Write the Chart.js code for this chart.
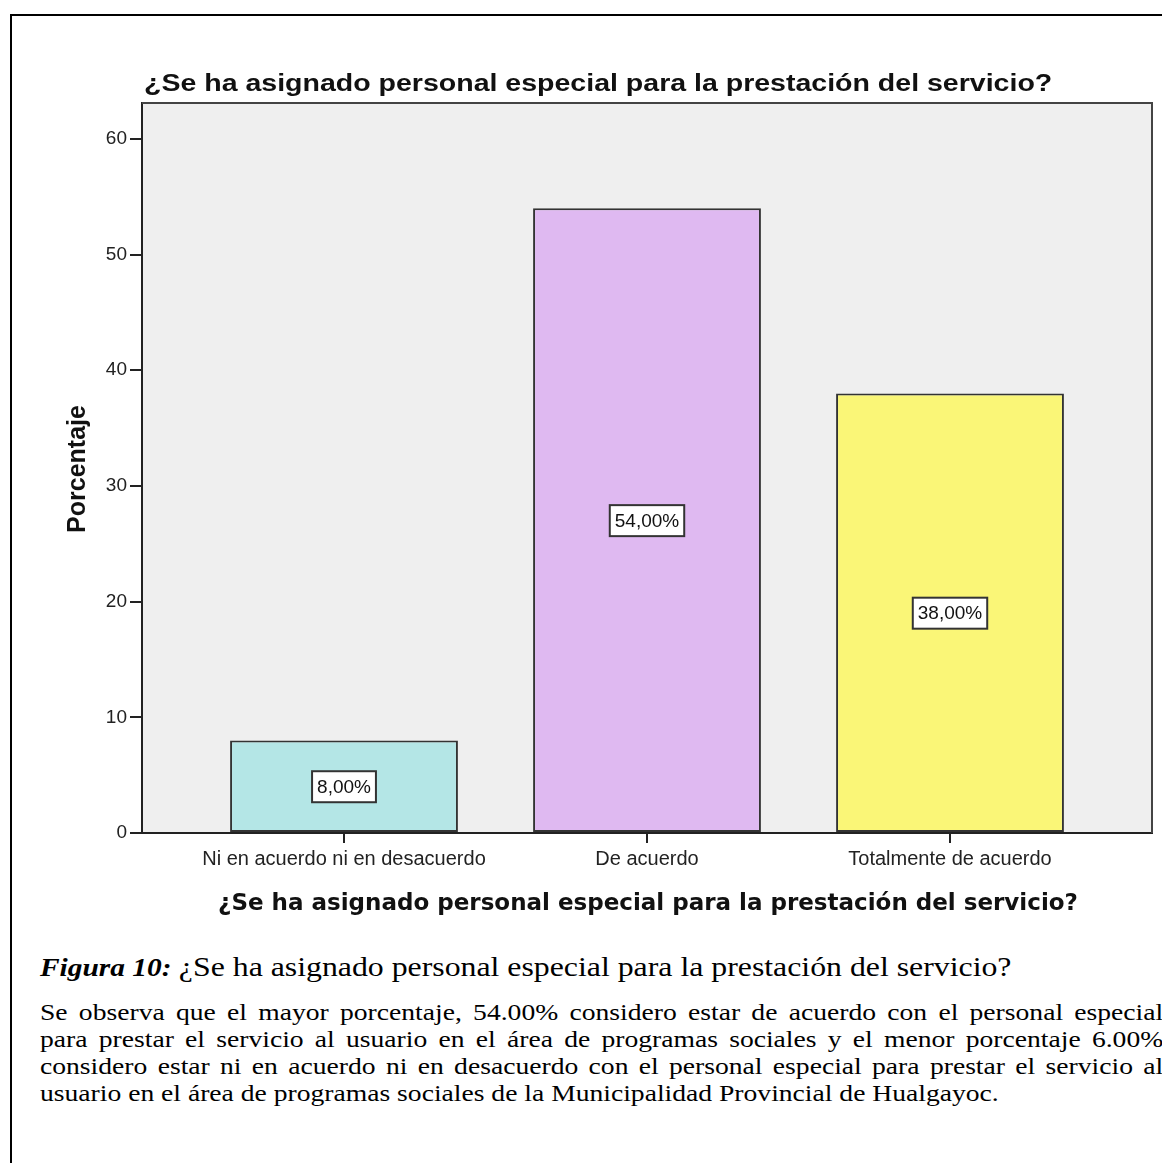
<!DOCTYPE html>
<html lang="es">
<head>
<meta charset="utf-8">
<title>Personal especial para la prestación del servicio</title>
<script src="https://cdn.jsdelivr.net/npm/chart.js@4.4.1/dist/chart.umd.min.js"></script>
<style>
  html, body { margin: 0; padding: 0; background: #fff; }
  body { width: 1162px; height: 1163px; position: relative; overflow: hidden; }
  #frame { position: absolute; left: 10px; top: 14px; width: 1200px; height: 1200px;
           border-left: 2px solid #000; border-top: 2px solid #000; }
  #chart { position: absolute; left: 0; top: 0; }
  .txt { position: absolute; left: 40px; color: #000;
         font-family: "Liberation Serif", "Times New Roman", serif;
         transform-origin: 0 0; transform: scaleX(1.2); }
  #caption { top: 952px; font-size: 24.5px; line-height: 30px; white-space: nowrap; }
  #caption b { font-style: italic; }
  #caption span { font-size: 26.5px; }
  #para { top: 999px; font-size: 23px; line-height: 27px; width: 936px; }
  #para div { text-align: justify; text-align-last: justify; }
  #para div.last { text-align-last: left; }
</style>
</head>
<body>
<div id="frame"></div>
<canvas id="chart" width="1162" height="930"></canvas>
<div id="caption" class="txt"><b>Figura 10:</b> <span>¿Se ha asignado personal especial para la prestación del servicio?</span></div>
<div id="para" class="txt">
  <div>Se observa que el mayor porcentaje, 54.00% considero estar de acuerdo con el personal especial</div>
  <div>para prestar el servicio al usuario en el área de programas sociales y el menor porcentaje 6.00%</div>
  <div>considero estar ni en acuerdo ni en desacuerdo con el personal especial para prestar el servicio al</div>
  <div class="last">usuario en el área de programas sociales de la Municipalidad Provincial de Hualgayoc.</div>
</div>
<script>
// Categories and percentages of the survey question
const categories = ['Ni en acuerdo ni en desacuerdo', 'De acuerdo', 'Totalmente de acuerdo'];
const percentages = [8, 54, 38];
const barColors = ['#b4e6e6', '#dfb9f1', '#faf677'];
const yTickValues = [0, 10, 20, 30, 40, 50, 60];
const chartTitle = '¿Se ha asignado personal especial para la prestación del servicio?';
const yAxisTitle = 'Porcentaje';
const xAxisTitle = '¿Se ha asignado personal especial para la prestación del servicio?';

const AXIS = '#222';

// Grey plot background plus the frame on the top and right sides
const plotFrame = {
  id: 'plotFrame',
  beforeDraw(chart) {
    const { ctx, chartArea: a } = chart;
    ctx.save();
    ctx.fillStyle = '#efefef';
    ctx.fillRect(a.left, a.top, a.right - a.left, a.bottom - a.top);
    ctx.restore();
  },
  beforeDatasetsDraw(chart) {
    const { ctx, chartArea: a } = chart;
    ctx.save();
    ctx.strokeStyle = '#444';
    ctx.lineWidth = 2;
    ctx.beginPath();
    ctx.moveTo(a.left, a.top);
    ctx.lineTo(a.right, a.top);
    ctx.lineTo(a.right, a.bottom);
    ctx.stroke();
    ctx.restore();
  }
};

// Boxed percentage labels in the middle of each bar
const boxedLabels = {
  id: 'boxedLabels',
  afterDatasetsDraw(chart) {
    const { ctx } = chart;
    const yScale = chart.scales.y;
    const meta = chart.getDatasetMeta(0);
    ctx.save();
    ctx.font = '19px "Liberation Sans", Arial, sans-serif';
    ctx.textAlign = 'center';
    ctx.textBaseline = 'middle';
    meta.data.forEach((bar, i) => {
      const v = percentages[i];
      const text = v.toFixed(2).replace('.', ',') + '%';
      const cy = yScale.getPixelForValue(v / 2);
      const w = ctx.measureText(text).width + 10;
      const h = 31;
      ctx.fillStyle = '#fff';
      ctx.fillRect(bar.x - w / 2, cy - h / 2, w, h);
      ctx.strokeStyle = '#333';
      ctx.lineWidth = 2;
      ctx.strokeRect(bar.x - w / 2, cy - h / 2, w, h);
      ctx.fillStyle = '#111';
      ctx.fillText(text, bar.x, cy + 1);
    });
    ctx.restore();
  }
};

// Chart title and axis titles
const titles = {
  id: 'titles',
  afterDraw(chart) {
    const { ctx, chartArea: a } = chart;
    ctx.save();
    ctx.fillStyle = '#111';
    ctx.textBaseline = 'alphabetic';

    ctx.save();
    ctx.font = 'bold 23px "Liberation Sans", Arial, sans-serif';
    ctx.textAlign = 'left';
    ctx.translate(a.left + 2, a.top - 12);
    ctx.scale(1.24, 1);
    ctx.fillText(chartTitle, 0, 0);
    ctx.restore();

    ctx.save();
    ctx.font = 'bold 25px "Liberation Sans", Arial, sans-serif';
    ctx.textAlign = 'center';
    ctx.translate(85, (a.top + a.bottom) / 2 + 1);
    ctx.rotate(-Math.PI / 2);
    ctx.fillText(yAxisTitle, 0, 0);
    ctx.restore();

    ctx.save();
    ctx.font = 'bold 23px "DejaVu Sans", Verdana, sans-serif';
    ctx.textAlign = 'center';
    ctx.fillText(xAxisTitle, (a.left + a.right) / 2 + 1, a.bottom + 77);
    ctx.restore();

    ctx.restore();
  }
};

new Chart(document.getElementById('chart'), {
  type: 'bar',
  data: {
    datasets: [{
      data: percentages.map((v, i) => ({ x: i, y: v })),
      backgroundColor: barColors,
      borderColor: '#333',
      borderWidth: 2,
      borderSkipped: false,
      categoryPercentage: 1,
      barPercentage: 0.752
    }]
  },
  options: {
    responsive: false,
    devicePixelRatio: 1,
    animation: false,
    layout: { padding: { left: 0, top: 103, right: 10, bottom: 0 } },
    plugins: {
      legend: { display: false },
      title: { display: false },
      tooltip: { enabled: false }
    },
    scales: {
      x: {
        type: 'linear',
        min: -2 / 3,
        max: 8 / 3,
        offset: false,
        afterBuildTicks: s => { s.ticks = categories.map((_, i) => ({ value: i })); },
        afterFit: s => { s.height = 97; },
        grid: { offset: false, drawOnChartArea: false, drawTicks: true, tickLength: 10, color: AXIS, lineWidth: 2 },
        border: { color: AXIS, width: 2 },
        ticks: {
          autoSkip: false,
          maxRotation: 0,
          padding: 4,
          color: '#222',
          font: { family: '"Liberation Sans", Arial, sans-serif', size: 20 },
          callback: v => categories[v] ?? ''
        }
      },
      y: {
        min: 0,
        max: 63.1,
        afterBuildTicks: s => { s.ticks = yTickValues.map(v => ({ value: v })); },
        afterFit: s => { s.width = 142; },
        grid: { drawOnChartArea: false, drawTicks: true, tickLength: 12, color: AXIS, lineWidth: 2 },
        border: { color: AXIS, width: 2 },
        ticks: {
          padding: 3,
          color: '#222',
          font: { family: '"Liberation Sans", Arial, sans-serif', size: 19 }
        }
      }
    }
  },
  plugins: [plotFrame, boxedLabels, titles]
});
</script>
</body>
</html>
